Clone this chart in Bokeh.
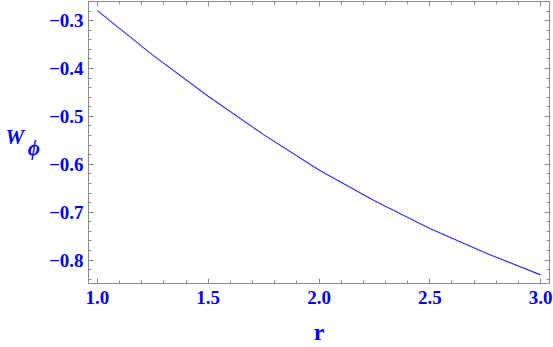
import numpy as np
from bokeh.plotting import figure
from bokeh.models import LinearAxis, FixedTicker, Range1d
from bokeh.embed import file_html
from bokeh.resources import INLINE

# data
r_vals = [1.0, 1.25, 1.5, 1.75, 2.0, 2.25, 2.5, 2.75, 3.0]
w_vals = [-0.279, -0.372, -0.458, -0.538, -0.612, -0.676, -0.734, -0.785, -0.831]

x_ticks = [1.0, 1.5, 2.0, 2.5, 3.0]
x_tick_labels = ["1.0", "1.5", "2.0", "2.5", "3.0"]
y_ticks = [-0.8, -0.7, -0.6, -0.5, -0.4, -0.3]
y_tick_labels = ["\u22120.8", "\u22120.7", "\u22120.6", "\u22120.5", "\u22120.4", "\u22120.3"]

x_minor = [round(v, 2) for v in np.arange(0.9, 3.11, 0.1)]
y_minor = [round(v, 3) for v in np.arange(-0.86, -0.239, 0.02)]

BLUE = "#0000ff"
GRAY = "#8c8c8c"
FONT = "Liberation Serif"
NB = "\u00a0"

p = figure(width=553, height=347, output_backend="svg", toolbar_location=None,
           x_range=Range1d(0.96, 3.04), y_range=Range1d(-0.849, -0.26),
           x_axis_type=None, y_axis_type=None,
           min_border_left=88, min_border_right=4, min_border_top=1, min_border_bottom=62)
p.outline_line_color = GRAY
p.background_fill_color = "white"
p.border_fill_color = "white"

p.line(r_vals, w_vals, line_color="#2a2aff", line_width=1.1)

xt = FixedTicker(ticks=x_ticks, minor_ticks=x_minor)
yt = FixedTicker(ticks=y_ticks, minor_ticks=y_minor)

bottom = LinearAxis(ticker=xt)
left = LinearAxis(ticker=yt)
top = LinearAxis(ticker=xt)
right = LinearAxis(ticker=yt)
p.add_layout(bottom, "below")
p.add_layout(left, "left")
p.add_layout(top, "above")
p.add_layout(right, "right")

for ax in [bottom, left, top, right]:
    ax.axis_line_color = GRAY
    ax.major_tick_line_color = GRAY
    ax.minor_tick_line_color = GRAY
    ax.major_tick_in = 5
    ax.major_tick_out = 0
    ax.minor_tick_in = 3
    ax.minor_tick_out = 0
    ax.major_label_text_color = BLUE
    ax.major_label_text_font = FONT
    ax.major_label_text_font_style = "bold"
    ax.major_label_text_font_size = "19px"

top.major_label_overrides = {t: "" for t in x_ticks}
right.major_label_overrides = {t: "" for t in y_ticks}
top.major_label_standoff = 0
right.major_label_standoff = 0

bottom.major_label_overrides = {t: l for t, l in zip(x_ticks, x_tick_labels)}
left.major_label_overrides = {t: l for t, l in zip(y_ticks, y_tick_labels)}
bottom.major_label_standoff = 7
left.major_label_standoff = 5

bottom.axis_label = "r"
bottom.axis_label_text_font = FONT
bottom.axis_label_text_font_style = "bold"
bottom.axis_label_text_font_size = "24px"
bottom.axis_label_text_color = BLUE
bottom.axis_label_standoff = 12

left.axis_label = "W" + NB * 3 + "\n" + NB * 4 + "\u03d5"
left.axis_label_orientation = "horizontal"
left.axis_label_text_font = FONT
left.axis_label_text_font_style = "bold italic"
left.axis_label_text_font_size = "21px"
left.axis_label_text_line_height = 0.45
left.axis_label_text_color = BLUE
left.axis_label_standoff = 6

open("out.html", "w").write(file_html(p, INLINE))
